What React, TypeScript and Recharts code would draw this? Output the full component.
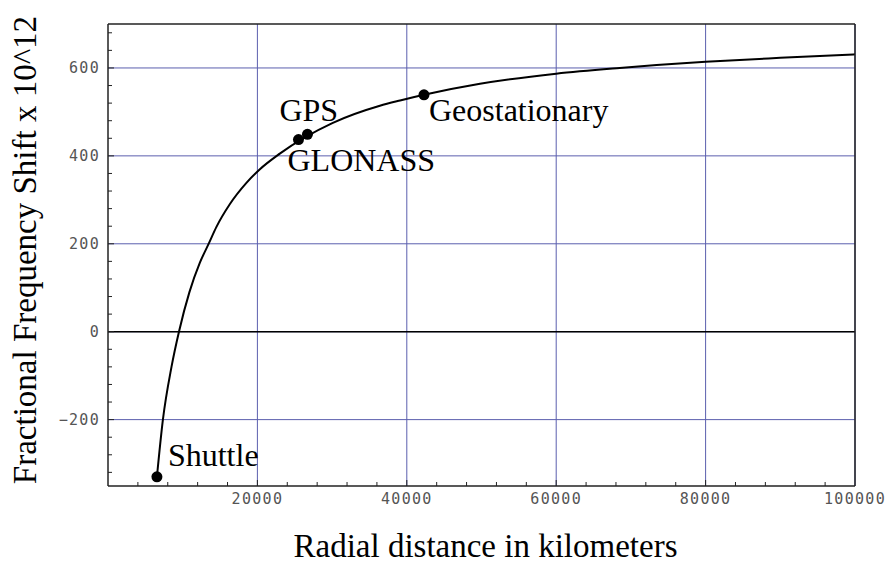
import { ComposedChart, Line, Scatter, XAxis, YAxis, CartesianGrid, ReferenceLine, Label } from 'recharts';

// curve: radial distance (km) vs fractional shift (x 10^-12)
const radiusKm = [6550, 7350, 8500, 9500, 10900, 12300, 13500, 14500, 16300, 18500, 20300, 23000, 30100, 36400, 39100, 42300, 49800, 60000, 68500, 80000, 90000, 100000];
const shiftE12 = [-330, -200, -80, 0, 90, 157, 201, 238, 290, 338, 369, 405, 475, 514, 526, 539, 564, 587, 600, 614, 623, 631];

const satNames = ['Shuttle', 'GLONASS', 'GPS', 'Geostationary'];
const satRadius = [6550, 25500, 26700, 42300];
const satShift = [-330, 437, 449, 539];

const xLabelTicks = [20000, 40000, 60000, 80000, 100000];
const xMinorTicks = [4000, 8000, 12000, 16000, 20000, 24000, 28000, 32000, 36000, 40000, 44000, 48000, 52000, 56000, 60000, 64000, 68000, 72000, 76000, 80000, 84000, 88000, 92000, 96000];
const yLabelTicks = [-200, 0, 200, 400, 600];
const yMinorTicks = [-320, -280, -240, -200, -160, -120, -80, -40, 0, 40, 80, 120, 160, 200, 240, 280, 320, 360, 400, 440, 480, 520, 560, 600, 640, 680];

const curve = radiusKm.map((r, i) => ({ r, shift: shiftE12[i] }));
const satellites = satNames.map((name, i) => ({ name, r: satRadius[i], shift: satShift[i] }));
const xAllTicks = Array.from(new Set([...xMinorTicks, ...xLabelTicks])).sort((a, b) => a - b);

// where each satellite name sits relative to its dot
const nameOffset: Record<string, [number, number]> = {
  Shuttle: [11, -11],
  GLONASS: [-11, 31],
  GPS: [-28, -13],
  Geostationary: [5, 26],
};

const X_DOMAIN: [number, number] = [0, 100000];
const Y_DOMAIN: [number, number] = [-351, 700];
const serif = '"Liberation Serif", "Times New Roman", serif';
const mono = '"DejaVu Sans Mono", monospace';
const frame = { stroke: '#222', strokeWidth: 1.5 };
const minorTick = { stroke: '#222', strokeWidth: 1 };

const SatDot = (props: any) => {
  const { cx, cy, payload } = props;
  const [dx, dy] = nameOffset[payload.name] || [8, -8];
  return (
    <g>
      <circle cx={cx} cy={cy} r={5.5} fill="#000" />
      <text x={cx + dx} y={cy + dy} fontFamily={serif} fontSize={32} fill="#000">
        {payload.name}
      </text>
    </g>
  );
};

const fmtY = (v: number) => (v < 0 ? `\u2212${Math.abs(v)}` : `${v}`);

// bottom axis: inward tick on the frame, number only on the labelled ticks
const BottomTick = (props: any) => {
  const { x, y, payload } = props;
  const labelled = xLabelTicks.includes(payload.value);
  return (
    <g>
      {payload.value < 100000 && <line x1={x} x2={x} y1={y} y2={y - (labelled ? 6 : 4)} stroke="#222" strokeWidth={1} />}
      {labelled && (
        <text x={x} y={y + 7} dy="0.71em" textAnchor="middle" fontFamily={mono} fontSize={15} fill="#555" letterSpacing={1.3}>
          {payload.value}
        </text>
      )}
    </g>
  );
};

const LeftTick = (props: any) => {
  const { x, y, payload } = props;
  const labelled = yLabelTicks.includes(payload.value);
  return (
    <g>
      <line x1={x} x2={x + (labelled ? 6 : 4)} y1={y} y2={y} stroke="#222" strokeWidth={1} />
      {labelled && (
        <text x={x - 8} y={y} dy="0.355em" textAnchor="end" fontFamily={mono} fontSize={15} fill="#555" letterSpacing={1.3}>
          {fmtY(payload.value)}
        </text>
      )}
    </g>
  );
};

const App = () => {
  return (
    <div style={{ position: 'absolute', left: 0, top: 0, width: 888, height: 565, background: '#fff' }}>
      <ComposedChart width={888} height={565} margin={{ top: 24, right: 33, bottom: 0, left: 0 }}>
        <CartesianGrid
          xAxisId="b"
          yAxisId="l"
          stroke="#5b5fae"
          strokeWidth={1}
          horizontalValues={yLabelTicks}
          verticalValues={xLabelTicks}
        />
        <XAxis
          xAxisId="b"
          dataKey="r"
          type="number"
          domain={X_DOMAIN}
          allowDataOverflow
          ticks={xAllTicks}
          interval={0}
          height={79}
          tickSize={0}
          tickMargin={0}
          axisLine={frame}
          tickLine={false}
          tick={BottomTick}
        >
          <Label
            content={({ viewBox }: any) => (
              <text x={viewBox.x + viewBox.width / 2 + 4} y={viewBox.y + 71} textAnchor="middle" fontFamily={serif} fontSize={33} fill="#000">
                Radial distance in kilometers
              </text>
            )}
          />
        </XAxis>
        <YAxis
          yAxisId="l"
          dataKey="shift"
          type="number"
          domain={Y_DOMAIN}
          allowDataOverflow
          ticks={yMinorTicks}
          interval={0}
          width={108}
          tickSize={0}
          tickMargin={0}
          axisLine={frame}
          tickLine={false}
          tick={LeftTick}
        >
          <Label
            content={({ viewBox }: any) => {
              const x = viewBox.x + 36;
              const y = viewBox.y + viewBox.height / 2 - 5;
              return (
                <text x={x} y={y} transform={`rotate(-90, ${x}, ${y})`} textAnchor="middle" fontFamily={serif} fontSize={33} fill="#000">
                  Fractional Frequency Shift x 10^12
                </text>
              );
            }}
          />
        </YAxis>
        {/* top and right frame with inward ticks */}
        <XAxis xAxisId="ft" type="number" domain={X_DOMAIN} allowDataOverflow orientation="top" mirror height={1} ticks={xMinorTicks} interval={0} tickSize={4} tick={false} axisLine={frame} tickLine={minorTick} />
        <YAxis yAxisId="fr" type="number" domain={Y_DOMAIN} allowDataOverflow orientation="right" mirror width={1} ticks={yMinorTicks} interval={0} tickSize={4} tick={false} axisLine={frame} tickLine={minorTick} />
        <ReferenceLine xAxisId="b" yAxisId="l" y={0} stroke="#000" strokeWidth={1.5} />
        <Line
          xAxisId="b"
          yAxisId="l"
          data={curve}
          dataKey="shift"
          type="monotone"
          stroke="#000"
          strokeWidth={2}
          dot={false}
          activeDot={false}
          isAnimationActive={false}
        />
        <Scatter
          xAxisId="b"
          yAxisId="l"
          data={satellites}
          dataKey="shift"
          shape={SatDot}
          isAnimationActive={false}
        />
      </ComposedChart>
    </div>
  );
};

export default App;
